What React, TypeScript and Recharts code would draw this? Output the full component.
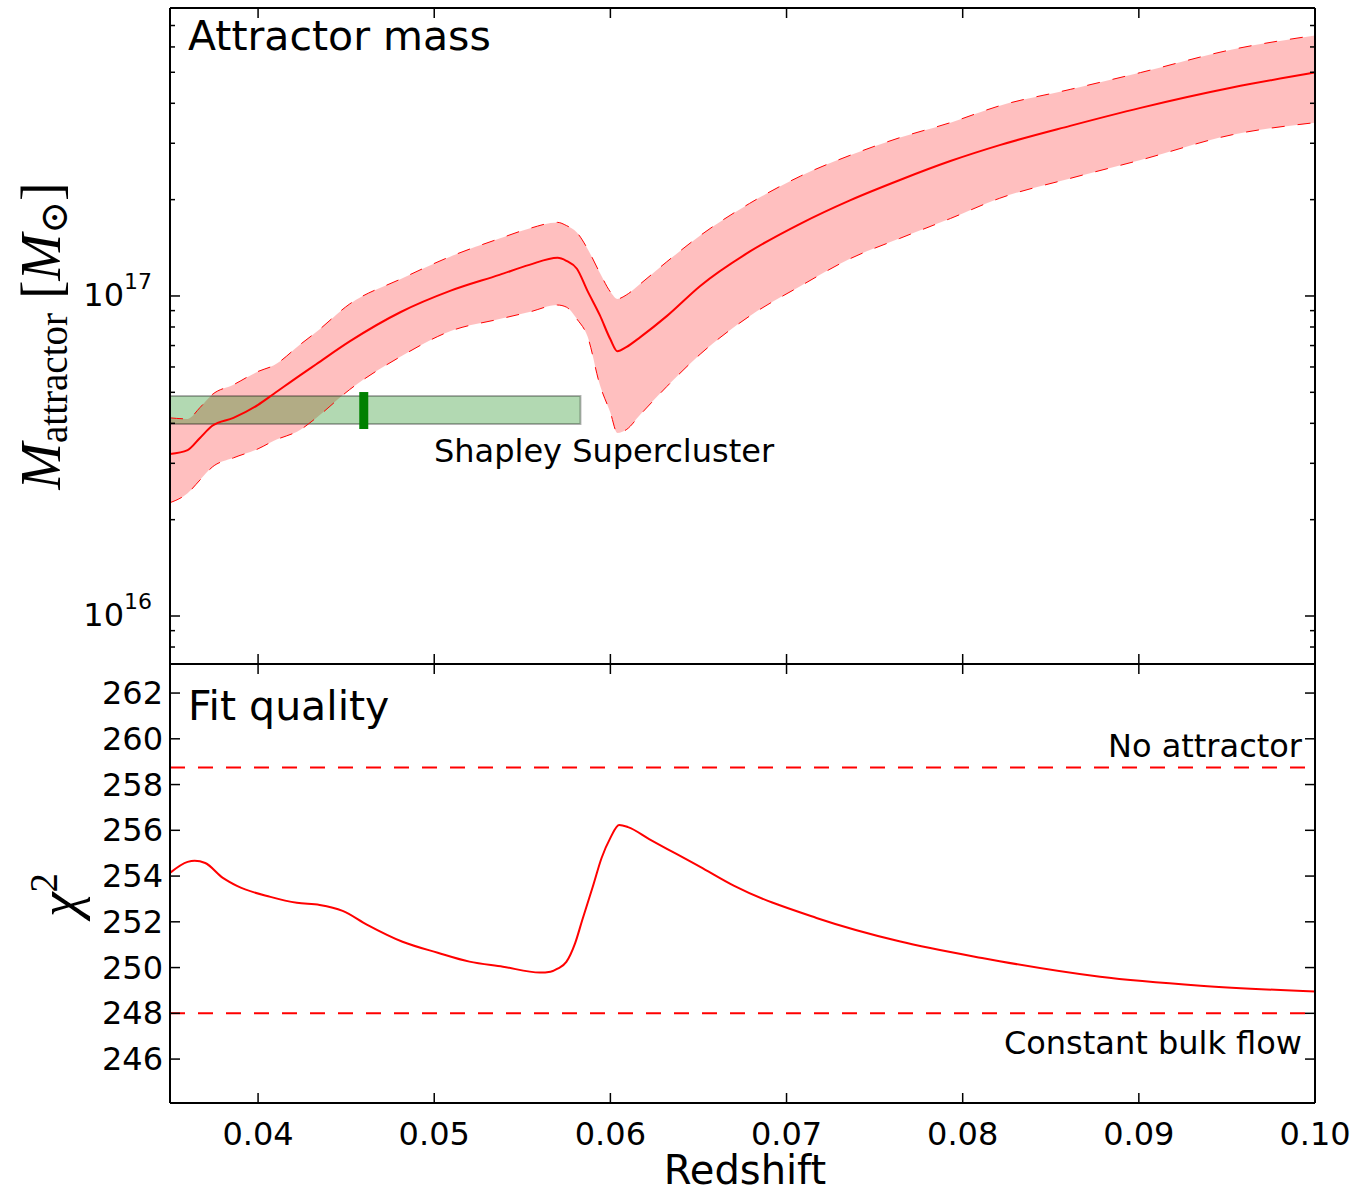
import React from 'react';
import { ComposedChart, Line, Area, XAxis, YAxis, ReferenceArea, ReferenceLine } from 'recharts';

// ---------- data ----------
const redshiftTop = [0.0350, 0.0360, 0.0367, 0.0374, 0.0386, 0.0400, 0.0409, 0.0424, 0.0433, 0.0452, 0.0481, 0.0509, 0.0537, 0.0554, 0.0570, 0.0575, 0.0581, 0.0587, 0.0594, 0.0600, 0.0604, 0.0609, 0.0617, 0.0632, 0.0651, 0.0679, 0.0708, 0.0736, 0.0764, 0.0793, 0.0821, 0.0861, 0.0901, 0.0953, 0.1000];
const massBest = [3.21e16, 3.30e16, 3.60e16, 3.93e16, 4.16e16, 4.57e16, 4.95e16, 5.66e16, 6.12e16, 7.21e16, 8.91e16, 1.037e17, 1.164e17, 1.251e17, 1.316e17, 1.288e17, 1.216e17, 1.037e17, 8.71e16, 7.32e16, 6.72e16, 6.92e16, 7.44e16, 8.65e16, 1.075e17, 1.375e17, 1.684e17, 1.99e17, 2.30e17, 2.64e17, 2.96e17, 3.40e17, 3.87e17, 4.48e17, 4.99e17];
const massUpper = [4.16e16, 4.13e16, 4.48e16, 4.92e16, 5.28e16, 5.81e16, 6.07e16, 7.06e16, 7.71e16, 9.44e16, 1.130e17, 1.327e17, 1.511e17, 1.625e17, 1.698e17, 1.66e17, 1.578e17, 1.405e17, 1.181e17, 1.030e17, 9.79e16, 1.007e17, 1.091e17, 1.279e17, 1.545e17, 1.946e17, 2.37e17, 2.75e17, 3.12e17, 3.48e17, 3.93e17, 4.42e17, 4.99e17, 5.89e17, 6.52e17];
const massLower = [2.26e16, 2.42e16, 2.66e16, 2.92e16, 3.12e16, 3.33e16, 3.53e16, 3.82e16, 4.16e16, 5.10e16, 6.47e16, 7.76e16, 8.47e16, 8.91e16, 9.37e16, 9.23e16, 8.47e16, 7.48e16, 5.28e16, 4.32e16, 3.73e16, 3.82e16, 4.26e16, 5.21e16, 6.58e16, 8.65e16, 1.075e17, 1.307e17, 1.511e17, 1.746e17, 2.02e17, 2.33e17, 2.66e17, 3.19e17, 3.48e17];

const redshiftChi = [0.0350, 0.0360, 0.0364, 0.0370, 0.0380, 0.0388, 0.0407, 0.0422, 0.0435, 0.0448, 0.0462, 0.0482, 0.0502, 0.0520, 0.0539, 0.0560, 0.0566, 0.0570, 0.0575, 0.0580, 0.0584, 0.0590, 0.0595, 0.0600, 0.0605, 0.0610, 0.0622, 0.0651, 0.0670, 0.0717, 0.0764, 0.0811, 0.0821, 0.0878, 0.0935, 0.1000];
const chiSquared = [254.14, 254.62, 254.67, 254.57, 253.92, 253.57, 253.09, 252.83, 252.74, 252.48, 251.87, 251.13, 250.65, 250.26, 250.04, 249.78, 249.82, 249.95, 250.25, 251.07, 252.07, 253.53, 254.79, 255.67, 256.23, 256.14, 255.62, 254.40, 253.58, 252.17, 251.15, 250.42, 250.28, 249.60, 249.21, 248.95];

const noAttractorChi2 = 258.75;
const bulkFlowChi2 = 248.0;

const shapleyRedshift = 0.046;
const shapleyRedshiftRange = [0.0337, 0.0583];
const shapleyMassRange = [3.98e16, 4.87e16];
const shapleyMarkerMass = [3.84e16, 5.01e16];

const xTicks = [0.04, 0.05, 0.06, 0.07, 0.08, 0.09, 0.10];
const massTicks = [8e15, 9e15, 1e16, 2e16, 3e16, 4e16, 5e16, 6e16, 7e16, 8e16, 9e16, 1e17, 2e17, 3e17, 4e17, 5e17, 6e17, 7e17];
const chiTicks = [246, 248, 250, 252, 254, 256, 258, 260, 262];

const xDomain = [0.035, 0.1];
const massDomain = [7.08e15, 7.94e17];
const chiDomain = [244.08, 263.27];

// ---------- styling helpers ----------
const FONT = '"DejaVu Sans", "Bitstream Vera Sans", sans-serif';
const SERIF = '"Liberation Serif", "DejaVu Serif", serif';
const RED = '#ff0000';
const AXIS_LINE = { stroke: '#000', strokeWidth: 2 };

const isDecade = (v: number) => {
  const l = Math.log10(v);
  return Math.abs(l - Math.round(l)) < 1e-6;
};

const leftLogTick = (props: any) => {
  const { x, y, payload } = props;
  const v = payload.value;
  const major = isDecade(v);
  return (
    <g>
      <line x1={x} x2={x + (major ? 10 : 5)} y1={y} y2={y} stroke="#000" strokeWidth={1.5} />
      {major && (
        <text x={x - 18} y={y + 10} textAnchor="end" fontFamily={FONT} fontSize={32} fill="#000">
          10<tspan dy={-17} fontSize={22}>{Math.round(Math.log10(v))}</tspan>
        </text>
      )}
    </g>
  );
};

const rightLogTick = (props: any) => {
  const { x, y, payload } = props;
  const major = isDecade(payload.value);
  return <line x1={x} x2={x - (major ? 10 : 5)} y1={y} y2={y} stroke="#000" strokeWidth={1.5} />;
};

const leftLinTick = (props: any) => {
  const { x, y, payload } = props;
  return (
    <g>
      <line x1={x} x2={x + 10} y1={y} y2={y} stroke="#000" strokeWidth={1.5} />
      <text x={x - 7} y={y + 11} textAnchor="end" fontFamily={FONT} fontSize={32} fill="#000">
        {payload.value}
      </text>
    </g>
  );
};

const rightLinTick = (props: any) => {
  const { x, y } = props;
  return <line x1={x} x2={x - 10} y1={y} y2={y} stroke="#000" strokeWidth={1.5} />;
};

const bottomTick = (withLabel: boolean) => (props: any) => {
  const { x, y, payload } = props;
  return (
    <g>
      <line x1={x} x2={x} y1={y} y2={y - 10} stroke="#000" strokeWidth={1.5} />
      {withLabel && (
        <text x={x} y={y + 42} textAnchor="middle" fontFamily={FONT} fontSize={32} fill="#000">
          {Number(payload.value).toFixed(2)}
        </text>
      )}
    </g>
  );
};

const topTick = (props: any) => {
  const { x, y } = props;
  return <line x1={x} x2={x} y1={y} y2={y + 10} stroke="#000" strokeWidth={1.5} />;
};

const commonX = {
  dataKey: 'z',
  type: 'number' as const,
  domain: xDomain,
  ticks: xTicks,
  allowDataOverflow: true,
  interval: 0 as const,
  tickSize: 0,
  tickMargin: 0,
  tickLine: false,
  axisLine: AXIS_LINE,
};

export default function App() {
  const topData = redshiftTop.map((z, i) => ({
    z,
    best: massBest[i],
    lo: massLower[i],
    hi: massUpper[i],
    band: [massLower[i], massUpper[i]],
  }));
  const chiData = redshiftChi.map((z, i) => ({ z, chi2: chiSquared[i] }));

  return (
    <div style={{ position: 'absolute', left: 0, top: 0, width: 1357, height: 1191, background: '#fff' }}>
      {/* Top panel: attractor mass */}
      <div style={{ position: 'absolute', left: 0, top: 0 }}>
        <ComposedChart width={1357} height={680} data={topData} margin={{ top: 0, right: 0, bottom: 0, left: 0 }}>
          <XAxis xAxisId="b" orientation="bottom" height={16} tick={bottomTick(false)} {...commonX} />
          <XAxis xAxisId="t" orientation="top" height={8} tick={topTick} {...commonX} />
          <YAxis
            yAxisId="l"
            orientation="left"
            width={170}
            scale="log"
            type="number"
            domain={massDomain}
            ticks={massTicks}
            allowDataOverflow
            interval={0}
            tickSize={0}
            tickMargin={0}
            tickLine={false}
            axisLine={AXIS_LINE}
            tick={leftLogTick}
          />
          <YAxis
            yAxisId="r"
            orientation="right"
            width={42}
            scale="log"
            type="number"
            domain={massDomain}
            ticks={massTicks}
            allowDataOverflow
            interval={0}
            tickSize={0}
            tickMargin={0}
            tickLine={false}
            axisLine={AXIS_LINE}
            tick={rightLogTick}
          />
          <Area
            xAxisId="b"
            yAxisId="l"
            dataKey="band"
            type="monotoneX"
            fill={RED}
            fillOpacity={0.25}
            stroke="none"
            isAnimationActive={false}
          />
          <Line xAxisId="b" yAxisId="l" dataKey="hi" type="monotoneX" stroke={RED} strokeWidth={1} strokeDasharray="13 13" dot={false} isAnimationActive={false} />
          <Line xAxisId="b" yAxisId="l" dataKey="lo" type="monotoneX" stroke={RED} strokeWidth={1} strokeDasharray="13 13" dot={false} isAnimationActive={false} />
          <Line xAxisId="b" yAxisId="l" dataKey="best" type="monotoneX" stroke={RED} strokeWidth={2} dot={false} isAnimationActive={false} />
          <ReferenceArea
            xAxisId="b"
            yAxisId="l"
            x1={shapleyRedshiftRange[0]}
            x2={shapleyRedshiftRange[1]}
            y1={shapleyMassRange[0]}
            y2={shapleyMassRange[1]}
            ifOverflow="hidden"
            fill="#008000"
            fillOpacity={0.3}
            stroke="#000"
            strokeOpacity={0.3}
            strokeWidth={2}
          />
          <ReferenceLine
            xAxisId="b"
            yAxisId="l"
            segment={[
              { x: shapleyRedshift, y: shapleyMarkerMass[0] },
              { x: shapleyRedshift, y: shapleyMarkerMass[1] },
            ]}
            stroke="#008000"
            strokeWidth={9}
          />
        </ComposedChart>
      </div>

      {/* Bottom panel: fit quality */}
      <div style={{ position: 'absolute', left: 0, top: 656 }}>
        <ComposedChart width={1357} height={535} data={chiData} margin={{ top: 0, right: 0, bottom: 0, left: 0 }}>
          <XAxis xAxisId="b" orientation="bottom" height={88} tick={bottomTick(true)} {...commonX} />
          <XAxis xAxisId="t" orientation="top" height={8} tick={topTick} {...commonX} />
          <YAxis
            yAxisId="l"
            orientation="left"
            width={170}
            type="number"
            domain={chiDomain}
            ticks={chiTicks}
            allowDataOverflow
            interval={0}
            tickSize={0}
            tickMargin={0}
            tickLine={false}
            axisLine={AXIS_LINE}
            tick={leftLinTick}
          />
          <YAxis
            yAxisId="r"
            orientation="right"
            width={42}
            type="number"
            domain={chiDomain}
            ticks={chiTicks}
            allowDataOverflow
            interval={0}
            tickSize={0}
            tickMargin={0}
            tickLine={false}
            axisLine={AXIS_LINE}
            tick={rightLinTick}
          />
          <ReferenceLine xAxisId="b" yAxisId="l" y={noAttractorChi2} stroke={RED} strokeWidth={2} strokeDasharray="15 13" />
          <ReferenceLine xAxisId="b" yAxisId="l" y={bulkFlowChi2} stroke={RED} strokeWidth={2} strokeDasharray="15 13" />
          <Line xAxisId="b" yAxisId="l" dataKey="chi2" type="monotoneX" stroke={RED} strokeWidth={2} dot={false} isAnimationActive={false} />
        </ComposedChart>
      </div>

      {/* Text annotations and axis titles */}
      <svg width={1357} height={1191} style={{ position: 'absolute', left: 0, top: 0, pointerEvents: 'none' }}>
        <text x={188} y={50} fontFamily={FONT} fontSize={41} fill="#000">Attractor mass</text>
        <text x={434} y={462} fontFamily={FONT} fontSize={32} fill="#000">Shapley Supercluster</text>
        <text x={188} y={720} fontFamily={FONT} fontSize={41} fill="#000">Fit quality</text>
        <text x={1302} y={757} textAnchor="end" fontFamily={FONT} fontSize={32} fill="#000">No attractor</text>
        <text x={1302} y={1054} textAnchor="end" fontFamily={FONT} fontSize={32} fill="#000">Constant bulk flow</text>
        <text x={745} y={1184} textAnchor="middle" fontFamily={FONT} fontSize={40} fill="#000">Redshift</text>
        <text transform="translate(60,336) rotate(-90)" textAnchor="middle" fontFamily={SERIF} fontSize={56} fill="#000">
          <tspan fontStyle="italic">M</tspan>
          <tspan fontSize={39} dy={7}>attractor</tspan>
          <tspan dy={-7}>{' ['}</tspan>
          <tspan fontStyle="italic">M</tspan>
          <tspan fontSize={39} dy={7}>⊙</tspan>
          <tspan dy={-7}>]</tspan>
        </text>
        <text transform="translate(78,895) rotate(-90)" textAnchor="middle" fontFamily={SERIF} fontSize={56} fill="#000">
          <tspan fontStyle="italic">χ</tspan>
          <tspan fontSize={39} dy={-21}>2</tspan>
        </text>
      </svg>
    </div>
  );
}
